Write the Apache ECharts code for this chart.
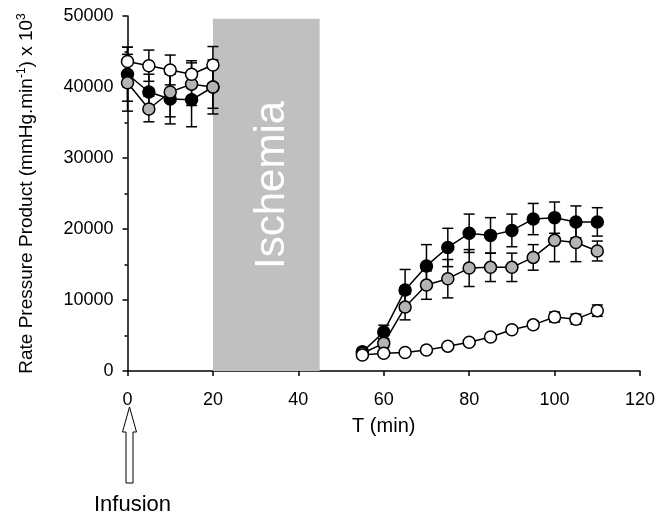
<!DOCTYPE html>
<html>
<head>
<meta charset="utf-8">
<script src="https://cdn.jsdelivr.net/npm/echarts@6/dist/echarts.min.js"></script>
<style>
  html, body { margin: 0; padding: 0; background: #fff; }
  #main { width: 659px; height: 521px; }
</style>
</head>
<body>
<div id="main"></div>
<script>
// time points (min)
var earlyT = [0, 5, 10, 15, 20];
var lateT = [55, 60, 65, 70, 75, 80, 85, 90, 95, 100, 105, 110];

// black circles
var blackEarly = [41800, 39300, 38300, 38200, 40000];
var blackEarlyErr = [3800, 2500, 3500, 3800, 3000];
var blackLate = [2700, 5500, 11400, 14800, 17400, 19400, 19100, 19800, 21400, 21600, 21000, 21000];
var blackLateErr = [500, 950, 2900, 3000, 2700, 2700, 2500, 2300, 2200, 2200, 2250, 2000];

// grey circles
var greyEarly = [40600, 36900, 39300, 40400, 40000];
var greyEarlyErr = [4000, 1800, 3500, 3000, 3800];
var greyLate = [2500, 3900, 9000, 12100, 13000, 14500, 14600, 14600, 16000, 18400, 18100, 16900];
var greyLateErr = [400, 600, 1800, 2000, 2700, 2600, 2000, 2000, 1800, 3000, 2700, 1400];

// white circles
var whiteEarly = [43600, 43000, 42400, 41800, 43100];
var whiteEarlyErr = [2000, 2200, 2100, 1900, 2600];
var whiteLate = [2250, 2500, 2600, 2950, 3500, 4050, 4800, 5800, 6500, 7600, 7300, 8500];
var whiteLateErr = [200, 300, 200, 200, 250, 300, 300, 400, 500, 700, 700, 800];

// ischemia period
var ischemiaStart = 20;
var ischemiaEnd = 45;
var ischemiaTop = 49600;

var font = "Liberation Sans, Arial, sans-serif";

function pairs(t, v) {
  var out = [];
  for (var i = 0; i < t.length; i++) out.push([t[i], v[i]]);
  return out;
}
function errs(t, v, e) {
  var out = [];
  for (var i = 0; i < t.length; i++) out.push([t[i], v[i] - e[i], v[i] + e[i]]);
  return out;
}

function renderErr(params, api) {
  var x = api.value(0);
  var top = api.coord([x, api.value(2)]);
  var bot = api.coord([x, api.value(1)]);
  var w = 5.5;
  var st = { stroke: "#000", lineWidth: 1.5 };
  return {
    type: "group",
    children: [
      { type: "line", shape: { x1: top[0], y1: top[1], x2: bot[0], y2: bot[1] }, style: st },
      { type: "line", shape: { x1: top[0] - w, y1: top[1], x2: top[0] + w, y2: top[1] }, style: st },
      { type: "line", shape: { x1: bot[0] - w, y1: bot[1], x2: bot[0] + w, y2: bot[1] }, style: st }
    ]
  };
}

function errSeries(data) {
  return {
    type: "custom",
    renderItem: renderErr,
    data: data,
    z: 3,
    silent: true,
    encode: { x: 0, y: [1, 2] }
  };
}

function lineSeries(data, fill) {
  return {
    type: "line",
    data: data,
    symbol: "circle",
    symbolSize: 12,
    z: 4,
    lineStyle: { color: "#000", width: 1.5 },
    itemStyle: { color: fill, borderColor: "#000", borderWidth: 1.5 },
    silent: true
  };
}

var series = [];
// grey box behind everything
series.push({
  type: "line",
  data: [],
  z: 1,
  silent: true,
  markArea: {
    silent: true,
    itemStyle: { color: "#c0c0c0", opacity: 1 },
    label: {
      show: true,
      position: "inside",
      rotate: 90,
      offset: [10, 6],
      color: "#fff",
      fontSize: 42,
      fontFamily: font
    },
    data: [[
      { name: "Ischemia", coord: [ischemiaStart, 0] },
      { coord: [ischemiaEnd, ischemiaTop] }
    ]]
  }
});

var groups = [
  [blackEarly, blackEarlyErr, blackLate, blackLateErr, "#000"],
  [greyEarly, greyEarlyErr, greyLate, greyLateErr, "#b4b4b4"],
  [whiteEarly, whiteEarlyErr, whiteLate, whiteLateErr, "#fff"]
];
groups.forEach(function (g) {
  series.push(errSeries(errs(earlyT, g[0], g[1])));
  series.push(errSeries(errs(lateT, g[2], g[3])));
  series.push(lineSeries(pairs(earlyT, g[0]), g[4]));
  series.push(lineSeries(pairs(lateT, g[2]), g[4]));
});

var chart = echarts.init(document.getElementById("main"));
chart.setOption({
  animation: false,
  backgroundColor: "#fff",
  grid: {
    left: 127.5,
    right: 19,
    top: 16,
    bottom: 150,
    outerBoundsMode: "none"
  },
  xAxis: {
    type: "value",
    min: 0,
    max: 120,
    interval: 20,
    name: "T (min)",
    nameLocation: "middle",
    nameGap: 45,
    nameTextStyle: { color: "#000", fontSize: 20, fontFamily: font },
    axisLine: { onZero: false, lineStyle: { color: "#000", width: 1.5 } },
    axisTick: { show: true, length: 5, lineStyle: { color: "#000", width: 1.5 } },
    axisLabel: { color: "#000", fontSize: 18, fontFamily: font, margin: 20 },
    splitLine: { show: false }
  },
  yAxis: {
    type: "value",
    min: 0,
    max: 50000,
    interval: 10000,
    name: "Rate Pressure Product (mmHg.min{s|-1}) x 10{s|3}",
    nameLocation: "middle",
    nameRotate: 90,
    nameGap: 90,
    nameTextStyle: {
      color: "#000",
      fontSize: 19,
      fontFamily: font,
      lineHeight: 22,
      rich: {
        s: { fontSize: 12, fontFamily: font, color: "#000", verticalAlign: "top", lineHeight: 12 }
      }
    },
    axisLine: { show: true, onZero: false, lineStyle: { color: "#000", width: 1.5 } },
    axisTick: { show: true, length: 5, lineStyle: { color: "#000", width: 1.5 } },
    minorTick: { show: true, splitNumber: 2, length: 3, lineStyle: { color: "#000", width: 1.5 } },
    axisLabel: {
      color: "#000",
      fontSize: 18,
      fontFamily: font,
      margin: 14,
      formatter: function (v) { return String(v); }
    },
    splitLine: { show: false }
  },
  graphic: [
    {
      type: "polygon",
      shape: {
        points: [[129.5, 407], [136.5, 432], [133, 432], [133, 483], [126, 483], [126, 432], [122.5, 432]]
      },
      style: { fill: "#fff", stroke: "#000", lineWidth: 1 }
    },
    {
      type: "text",
      left: 94,
      top: 494,
      style: { text: "Infusion", fill: "#000", fontSize: 22, fontFamily: font }
    }
  ],
  series: series
});
</script>
</body>
</html>
